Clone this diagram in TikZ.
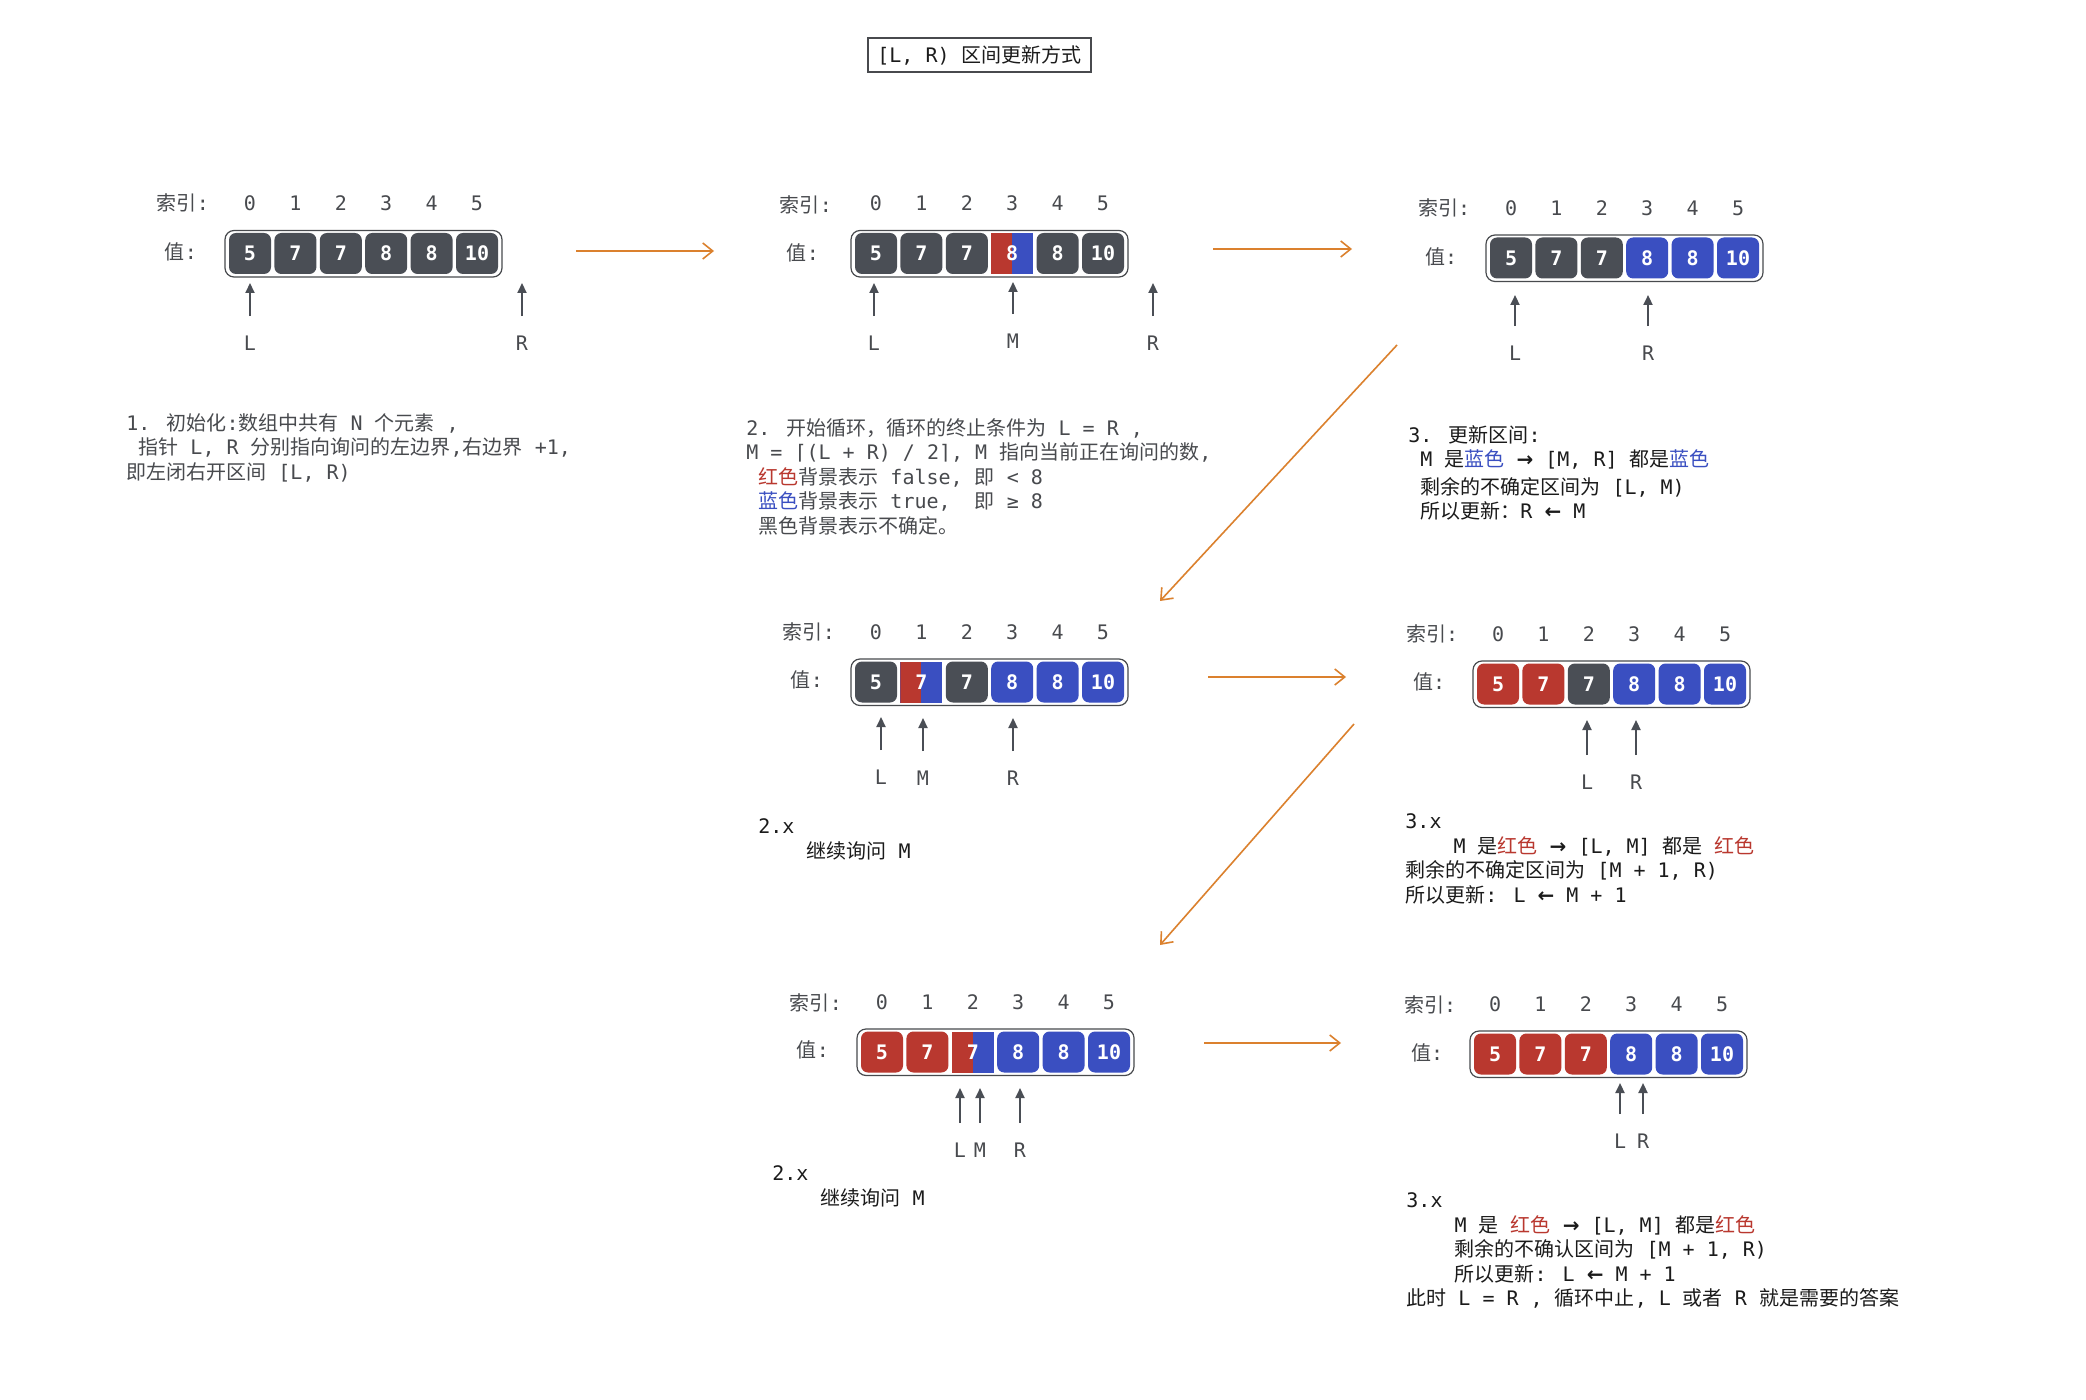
\documentclass[tikz,border=0pt]{standalone}
\usepackage{fontspec}
\setmainfont{DejaVu Sans Mono}
\newfontfamily\zhfont{Noto Sans CJK SC}
\newfontfamily\enfont{DejaVu Sans Mono}
\newfontfamily\symfont{DejaVu Sans}
\usetikzlibrary{arrows.meta}

% Chinese characters get class 1 and switch to the CJK font
\XeTeXinterchartokenstate=1
\count255="3000
\loop\XeTeXcharclass\count255=1 \ifnum\count255<"9FFF \advance\count255 by 1 \repeat
\count255="FF00
\loop\XeTeXcharclass\count255=1 \ifnum\count255<"FFEF \advance\count255 by 1 \repeat
\XeTeXinterchartoks 0 1 = {\zhfont}
\XeTeXinterchartoks 4095 1 = {\zhfont}
\XeTeXinterchartoks 1 0 = {\enfont}
\XeTeXinterchartoks 1 4095 = {\enfont}

\newcommand\toarr{{\symfont\bfseries →}}
\newcommand\fromarr{{\symfont\bfseries ←}}

\definecolor{cellDark}{HTML}{4A4E55}
\definecolor{cellRed}{HTML}{B9382F}
\definecolor{cellBlue}{HTML}{3A4FC1}
\definecolor{flowOrange}{HTML}{DB812E}
\definecolor{inkGray}{HTML}{484A4E}
\definecolor{inkBlack}{HTML}{1B1B1B}

\begin{document}
\begin{tikzpicture}[x=0.5pt,y=-0.5pt]
    \tikzstyle{every node}+=[inner sep=0pt,font=\fontsize{10}{12.25}\selectfont]
    \tikzstyle{lbl}=[text=inkGray]
    \tikzstyle{cell}=[rounded corners=3.5pt,minimum width=21pt,minimum height=20.5pt,text=white,font=\fontsize{10}{12}\selectfont\bfseries]
    \tikzstyle{dkcell}=[cell,fill=cellDark]
    \tikzstyle{rdcell}=[cell,fill=cellRed]
    \tikzstyle{blcell}=[cell,fill=cellBlue]
    \tikzstyle{spcell}=[cell,sharp corners,fill=cellBlue,path picture={\fill[cellRed] (path picture bounding box.south west) rectangle (path picture bounding box.north);}]
    \tikzstyle{arraybox}=[draw=inkGray,line width=0.6pt,rounded corners=4.5pt,fill=white]
    \tikzstyle{ptr}=[draw=cellDark,line width=1pt,-{Triangle[length=5pt,width=4.5pt]}]
    \tikzstyle{ptrlbl}=[lbl,outer sep=9.8pt]
    \tikzstyle{flow}=[draw=flowOrange,line width=0.8pt,-{Straight Barb[length=5pt,width=8pt]}]
    \tikzstyle{note}=[anchor=north west,align=left,text=inkBlack]
    \fill[white] (0,0) rectangle (2086,1400);
    \useasboundingbox (0,0) rectangle (2086,1400);
    \node[draw=inkGray,line width=0.75pt,minimum width=111.5pt,minimum height=17pt,text=inkBlack] (title) at (979.5,55) {[L, R) 区间更新方式};
    % 1. init
    \node[lbl] (idx1) at (183,203) {索引:};
    \node[lbl] (val1) at (181,251.5) {值:};
    \draw[arraybox] (225,230.5) rectangle (502,277);
    \foreach \val/\sty [count=\i from 0] in {5/dkcell,7/dkcell,7/dkcell,8/dkcell,8/dkcell,10/dkcell}
      {\node[lbl] (idx1n\i) at (250+45.4*\i,203) {\i};
       \node[\sty] (cell1n\i) at (250+45.4*\i,253.5) {\val};}
    \node[ptrlbl] (L1) at (250,343) {L};
    \node[ptrlbl] (R1) at (522,343) {R};
    \coordinate (L1tip) at (250,283);
    \coordinate (R1tip) at (522,283);
    \draw[ptr] (L1) -- (L1tip);
    \draw[ptr] (R1) -- (R1tip);
    \node[note,text=inkGray] (note1) at (126,413) {1. 初始化:数组中共有 N 个元素 ,\\~指针 L, R 分别指向询问的左边界,右边界 +1,\\即左闭右开区间 [L, R)};
    % 2. loop
    \node[lbl] (idx2) at (806,205) {索引:};
    \node[lbl] (val2) at (803,253) {值:};
    \draw[arraybox] (851,230.5) rectangle (1128,277);
    \foreach \val/\sty [count=\i from 0] in {5/dkcell,7/dkcell,7/dkcell,8/spcell,8/dkcell,10/dkcell}
      {\node[lbl] (idx2n\i) at (876+45.4*\i,203) {\i};
       \node[\sty] (cell2n\i) at (876+45.4*\i,253.5) {\val};}
    \node[ptrlbl] (L2) at (874,343) {L};
    \node[ptrlbl] (M2) at (1013,341) {M};
    \node[ptrlbl] (R2) at (1153,343) {R};
    \coordinate (L2tip) at (874,283);
    \coordinate (M2tip) at (1013,282);
    \coordinate (R2tip) at (1153,283);
    \draw[ptr] (L2) -- (L2tip);
    \draw[ptr] (M2) -- (M2tip);
    \draw[ptr] (R2) -- (R2tip);
    \node[note,text=inkGray] (note2) at (746,418) {2. 开始循环，循环的终止条件为 L = R ,\\M = ⌈(L + R) / 2⌉, M 指向当前正在询问的数,\\~\textcolor{cellRed}{红色}背景表示 false, 即 < 8\\~\textcolor{cellBlue}{蓝色}背景表示 true,~~即 ≥ 8\\~黑色背景表示不确定。};
    % 3. update
    \node[lbl] (idx3) at (1444,208) {索引:};
    \node[lbl] (val3) at (1441,257) {值:};
    \draw[arraybox] (1486,235) rectangle (1763,281.5);
    \foreach \val/\sty [count=\i from 0] in {5/dkcell,7/dkcell,7/dkcell,8/blcell,8/blcell,10/blcell}
      {\node[lbl] (idx3n\i) at (1511+45.4*\i,208) {\i};
       \node[\sty] (cell3n\i) at (1511+45.4*\i,258) {\val};}
    \node[ptrlbl] (L3) at (1515,353) {L};
    \node[ptrlbl] (R3) at (1648,353) {R};
    \coordinate (L3tip) at (1515,295);
    \coordinate (R3tip) at (1648,295);
    \draw[ptr] (L3) -- (L3tip);
    \draw[ptr] (R3) -- (R3tip);
    \node[note] (note3) at (1408,425) {3. 更新区间:\\~M 是\textcolor{cellBlue}{蓝色} \toarr{} [M, R] 都是\textcolor{cellBlue}{蓝色}\\[1.5pt]~剩余的不确定区间为 [L, M)\\~所以更新：R \fromarr{} M};
    % 2.x ask M
    \node[lbl] (idx4) at (809,632) {索引:};
    \node[lbl] (val4) at (807,680) {值:};
    \draw[arraybox] (851,659) rectangle (1128,705.5);
    \foreach \val/\sty [count=\i from 0] in {5/dkcell,7/spcell,7/dkcell,8/blcell,8/blcell,10/blcell}
      {\node[lbl] (idx4n\i) at (876+45.4*\i,632) {\i};
       \node[\sty] (cell4n\i) at (876+45.4*\i,682) {\val};}
    \node[ptrlbl] (L4) at (881,777) {L};
    \node[ptrlbl] (M4) at (923,778) {M};
    \node[ptrlbl] (R4) at (1013,778) {R};
    \coordinate (L4tip) at (881,717);
    \coordinate (M4tip) at (923,718);
    \coordinate (R4tip) at (1013,718);
    \draw[ptr] (L4) -- (L4tip);
    \draw[ptr] (M4) -- (M4tip);
    \draw[ptr] (R4) -- (R4tip);
    \node[note] (note4) at (758,818.7) {2.x\\~~~~继续询问 M};
    % 3.x red
    \node[lbl] (idx5) at (1432,634) {索引:};
    \node[lbl] (val5) at (1429,682) {值:};
    \draw[arraybox] (1473,661) rectangle (1750,707.5);
    \foreach \val/\sty [count=\i from 0] in {5/rdcell,7/rdcell,7/dkcell,8/blcell,8/blcell,10/blcell}
      {\node[lbl] (idx5n\i) at (1498+45.4*\i,634) {\i};
       \node[\sty] (cell5n\i) at (1498+45.4*\i,684) {\val};}
    \node[ptrlbl] (L5) at (1587,782) {L};
    \node[ptrlbl] (R5) at (1636,782) {R};
    \coordinate (L5tip) at (1587,720);
    \coordinate (R5tip) at (1636,720);
    \draw[ptr] (L5) -- (L5tip);
    \draw[ptr] (R5) -- (R5tip);
    \node[note] (note5) at (1405,813.7) {3.x\\~~~~M 是\textcolor{cellRed}{红色} \toarr{} [L, M] 都是 \textcolor{cellRed}{红色}\\剩余的不确定区间为 [M + 1, R)\\所以更新: L \fromarr{} M + 1};
    % 2.x again
    \node[lbl] (idx6) at (816,1003) {索引:};
    \node[lbl] (val6) at (813,1050) {值:};
    \draw[arraybox] (857,1029) rectangle (1134,1075.5);
    \foreach \val/\sty [count=\i from 0] in {5/rdcell,7/rdcell,7/spcell,8/blcell,8/blcell,10/blcell}
      {\node[lbl] (idx6n\i) at (882+45.4*\i,1002) {\i};
       \node[\sty] (cell6n\i) at (882+45.4*\i,1052) {\val};}
    \node[ptrlbl] (L6) at (960,1150) {L};
    \node[ptrlbl] (M6) at (980,1150) {M};
    \node[ptrlbl] (R6) at (1020,1150) {R};
    \coordinate (L6tip) at (960,1088);
    \coordinate (M6tip) at (980,1088);
    \coordinate (R6tip) at (1020,1088);
    \draw[ptr] (L6) -- (L6tip);
    \draw[ptr] (M6) -- (M6tip);
    \draw[ptr] (R6) -- (R6tip);
    \node[note] (note6) at (772,1165.7) {2.x\\~~~~继续询问 M};
    % 3.x done
    \node[lbl] (idx7) at (1430,1005) {索引:};
    \node[lbl] (val7) at (1427,1053) {值:};
    \draw[arraybox] (1470,1031) rectangle (1747,1077.5);
    \foreach \val/\sty [count=\i from 0] in {5/rdcell,7/rdcell,7/rdcell,8/blcell,8/blcell,10/blcell}
      {\node[lbl] (idx7n\i) at (1495+45.4*\i,1004) {\i};
       \node[\sty] (cell7n\i) at (1495+45.4*\i,1054) {\val};}
    \node[ptrlbl] (L7) at (1620,1141) {L};
    \node[ptrlbl] (R7) at (1643,1141) {R};
    \coordinate (L7tip) at (1620,1083);
    \coordinate (R7tip) at (1643,1083);
    \draw[ptr] (L7) -- (L7tip);
    \draw[ptr] (R7) -- (R7tip);
    \node[note] (note7) at (1406,1192.7) {3.x\\~~~~M 是 \textcolor{cellRed}{红色} \toarr{} [L, M] 都是\textcolor{cellRed}{红色}\\~~~~剩余的不确认区间为 [M + 1, R)\\~~~~所以更新: L \fromarr{} M + 1\\此时 L = R , 循环中止, L 或者 R 就是需要的答案};
    % flow
    \coordinate (f1a) at (576,251);
    \coordinate (f1b) at (714,251);
    \coordinate (f2a) at (1213,249);
    \coordinate (f2b) at (1352,249);
    \coordinate (f3a) at (1397,345);
    \coordinate (f3b) at (1160,601);
    \coordinate (f4a) at (1208,677);
    \coordinate (f4b) at (1346,677);
    \coordinate (f5a) at (1354,724);
    \coordinate (f5b) at (1160,945);
    \coordinate (f6a) at (1204,1043);
    \coordinate (f6b) at (1341,1043);
    \draw[flow] (f1a) -- (f1b);
    \draw[flow] (f2a) -- (f2b);
    \draw[flow] (f3a) -- (f3b);
    \draw[flow] (f4a) -- (f4b);
    \draw[flow] (f5a) -- (f5b);
    \draw[flow] (f6a) -- (f6b);
\end{tikzpicture}
\end{document}
